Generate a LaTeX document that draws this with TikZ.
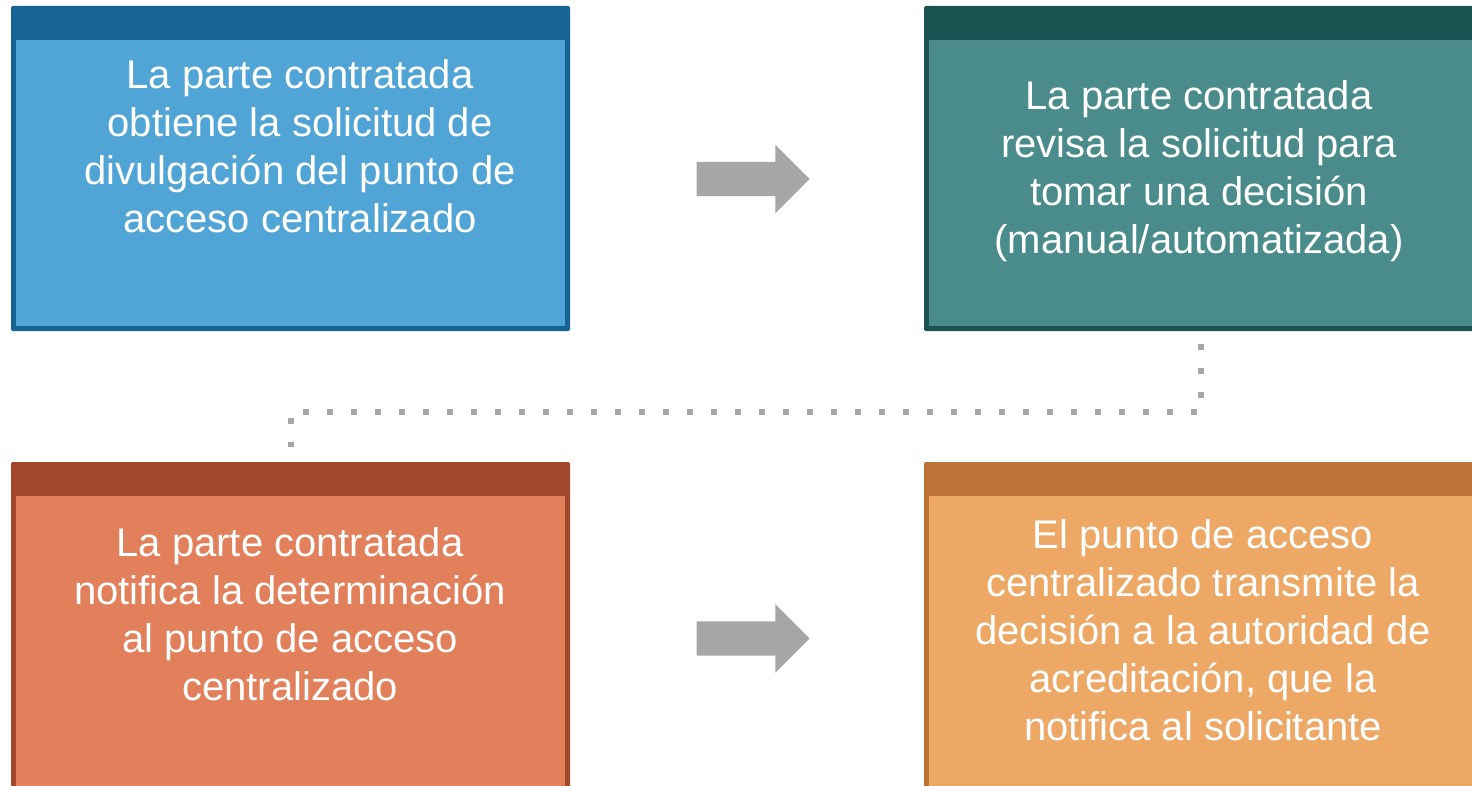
\documentclass[tikz,border=0pt]{standalone}
\usepackage{fontspec}
\setmainfont{Liberation Sans}
\usetikzlibrary{shapes.arrows}

\definecolor{bluedark}{HTML}{166494}
\definecolor{bluelight}{HTML}{51A5D6}
\definecolor{tealdark}{HTML}{1B5252}
\definecolor{teallight}{HTML}{4A8B8C}
\definecolor{reddark}{HTML}{A3472A}
\definecolor{redlight}{HTML}{E2805B}
\definecolor{orangedark}{HTML}{BC7335}
\definecolor{orangelight}{HTML}{EEA866}
\definecolor{arrowgray}{HTML}{A6A6A6}

\tikzset{
  box/.style={rectangle, rounded corners=2pt, fill=#1, inner sep=0pt,
    minimum width=559pt, minimum height=325pt},
  stagetext/.style={text=white, align=center, inner sep=0pt,
    font=\fontsize{40pt}{48pt}\selectfont},
  blockarrow/.style={single arrow, fill=arrowgray, inner xsep=0pt, inner ysep=17pt,
    minimum width=68pt, minimum height=113pt,
    single arrow head extend=17pt, single arrow head indent=0pt},
  dotline/.style={draw=arrowgray, line width=6pt, dash pattern=on 6pt off 18pt}
}

\begin{document}
\begin{tikzpicture}[x=1pt, y=-1pt]
    \useasboundingbox (0,0) rectangle (1472,786);

    % boxes
    \node[box=bluedark]   (box1) at (290.5,168.5) {};
    \node[box=tealdark]   (box2) at (1203.5,168.5) {};
    \node[box=reddark, minimum height=360pt]    (box3) at (290.5,642) {};
    \node[box=orangedark, minimum height=360pt] (box4) at (1203.5,642) {};
    \fill[bluelight] ([shift={(5,34)}]box1.north west) rectangle ([shift={(-5,-5)}]box1.south east);
    \fill[teallight] ([shift={(5,34)}]box2.north west) rectangle ([shift={(-5,-5)}]box2.south east);
    \fill[redlight] ([shift={(5,34)}]box3.north west) rectangle ([shift={(-5,-5)}]box3.south east);
    \fill[orangelight] ([shift={(5,34)}]box4.north west) rectangle ([shift={(-5,-5)}]box4.south east);

    % texts
    \node[stagetext] (t1) at (300,146) {La parte contratada\\obtiene la solicitud de\\divulgación del punto de\\acceso centralizado};
    \node[stagetext] (t2) at (1199,171.5) {La parte contratada\\revisa la solicitud para\\tomar una decisión\\(manual/automatizada)};
    \node[stagetext] (t3) at (290,614) {La parte contratada\\notifica la determinación\\al punto de acceso\\centralizado};
    \node[stagetext] (t4) at (1203,630) {El punto de acceso\\centralizado transmite la\\decisión a la autoridad de\\acreditación, que la\\notifica al solicitante};

    % arrows
    \node[blockarrow] (a1) at (744.5,179) {};
    \node[blockarrow] (a2) at (744.5,638.5) {};

    % dotted link
    \draw[dotline] ([shift={(-2.5,13)}]box2.south) -- ++(0,68) -| ([shift={(0,-15)}]box3.north);
\end{tikzpicture}
\end{document}
